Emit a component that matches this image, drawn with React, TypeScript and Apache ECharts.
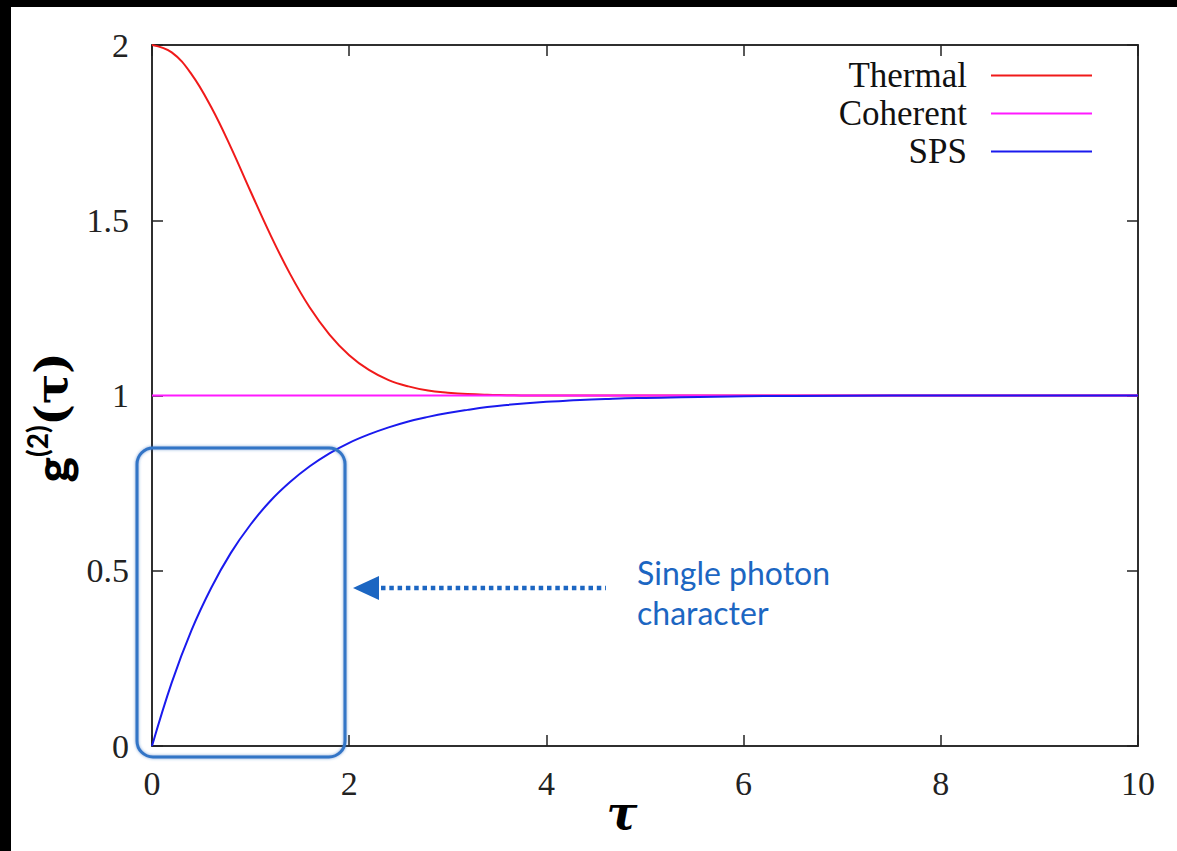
import React, { useEffect, useRef } from "react";
import * as echarts from "echarts";

// tau sample points
const tau = [0, 0.2, 0.4, 0.6, 0.8, 1.0, 1.2, 1.4, 1.6, 1.8, 2.0, 2.2, 2.4, 2.6, 2.8, 3.0, 3.2, 3.4, 3.6, 3.8, 4.0, 4.2, 4.4, 4.6, 4.8, 5.0, 6, 7, 8, 9, 10];
const thermal = [2.0, 1.979, 1.917, 1.823, 1.708, 1.582, 1.459, 1.347, 1.251, 1.174, 1.115, 1.073, 1.044, 1.026, 1.014, 1.008, 1.004, 1.002, 1.001, 1.0, 1.0, 1.0, 1.0, 1.0, 1.0, 1.0, 1.0, 1.0, 1.0, 1.0, 1.0];
const sps = [0, 0.181, 0.33, 0.451, 0.551, 0.632, 0.699, 0.753, 0.798, 0.835, 0.865, 0.889, 0.909, 0.926, 0.939, 0.95, 0.959, 0.967, 0.973, 0.978, 0.982, 0.985, 0.988, 0.99, 0.992, 0.993, 0.998, 0.999, 1.0, 1.0, 1.0];
const coherentTau = [0, 10];
const coherent = [1, 1];

const seriesNames = ["Thermal", "Coherent", "SPS"];
const seriesColors = ["#f01a1a", "#ff1aff", "#1a1aee"];
const xTicks = { min: 0, max: 10, interval: 2 };
const yTicks = { min: 0, max: 2, interval: 0.5 };
const annotationLines = ["Single photon", "character"];

const SERIF = "'Liberation Serif', 'Times New Roman', serif";

export default function App() {
  const ref = useRef<HTMLDivElement>(null);
  useEffect(() => {
    document.body.style.margin = "0";
    document.body.style.background = "#fff";
    document.documentElement.style.background = "#fff";
    document.documentElement.style.overflow = "hidden";
    const chart = echarts.init(ref.current!, null, { renderer: "svg" });
    const pair = (xs: number[], ys: number[]) => xs.map((x, i) => [x, ys[i]]);
    const axisCommon = {
      type: "value" as const,
      axisLine: { show: true, onZero: false, lineStyle: { color: "#222", width: 1.5 } },
      axisTick: { show: true, inside: true, length: 11, lineStyle: { color: "#222", width: 1.5 } },
      splitLine: { show: false },
    };
    const lineSeries = (name: string, data: number[][], color: string) => ({
      name,
      type: "line",
      data,
      symbol: "none",
      showSymbol: false,
      smooth: 0.4,
      lineStyle: { color, width: 2 },
      itemStyle: { color },
    });
    const blue = "#1c66c2";
    chart.setOption({
      animation: false,
      backgroundColor: "#ffffff",
      grid: {
        left: 152,
        top: 45,
        right: 39,
        bottom: 105,
        containLabel: false,
        outerBoundsMode: "none",
        show: true,
        borderColor: "#222",
        borderWidth: 1.5,
        backgroundColor: "transparent",
      },
      legend: {
        orient: "vertical",
        right: 85,
        top: 58,
        align: "right",
        padding: 0,
        icon: "rect",
        itemWidth: 101,
        itemHeight: 2,
        itemGap: 3,
        data: seriesNames,
        textStyle: { fontSize: 35, fontFamily: SERIF, color: "#111", padding: [0, 19, 0, 0] },
      },
      xAxis: [
        {
          ...axisCommon,
          ...xTicks,
          position: "bottom",
          axisLabel: { fontSize: 34, fontFamily: SERIF, color: "#222", margin: 20 },
          name: "τ",
          nameLocation: "middle",
          nameMoveOverlap: false,
          nameGap: 44,
          nameTextStyle: {
            fontSize: 46,
            lineHeight: 46,
            fontWeight: "bold",
            fontStyle: "italic",
            fontFamily: "'DejaVu Serif', serif",
            color: "#000",
            padding: [0, 46, 0, 0],
          },
        },
        {
          ...axisCommon,
          ...xTicks,
          position: "top",
          axisLabel: { show: false },
        },
      ],
      yAxis: [
        {
          ...axisCommon,
          ...yTicks,
          position: "left",
          axisLabel: { fontSize: 34, fontFamily: SERIF, color: "#222", margin: 23 },
          name: "{g|g}{s|(2)}{t|(τ)}",
          nameLocation: "middle",
          nameRotate: 90,
          nameGap: 64,
          nameTextStyle: {
            padding: [0, 44, 0, 0],
            rich: {
              g: { fontSize: 48, fontWeight: 900, fontFamily: "Lato, sans-serif", color: "#000", lineHeight: 58 },
              s: { fontSize: 28, fontWeight: 700, fontFamily: "Lato, sans-serif", color: "#000", verticalAlign: "top", lineHeight: 58 },
              t: { fontSize: 45, fontWeight: "bold", fontFamily: "'DejaVu Serif', serif", color: "#000", lineHeight: 58 },
            },
          },
        },
        {
          ...axisCommon,
          ...yTicks,
          position: "right",
          axisLabel: { show: false },
        },
      ],
      series: [
        lineSeries(seriesNames[0], pair(tau, thermal), seriesColors[0]),
        lineSeries(seriesNames[1], pair(coherentTau, coherent), seriesColors[1]),
        lineSeries(seriesNames[2], pair(tau, sps), seriesColors[2]),
        {
          name: "mirror",
          type: "line",
          xAxisIndex: 1,
          yAxisIndex: 1,
          data: [],
          symbol: "none",
          silent: true,
        },
      ],
      graphic: [
        { type: "rect", z: 100, shape: { x: 0, y: 0, width: 1177, height: 7 }, style: { fill: "#000" } },
        { type: "rect", z: 100, shape: { x: 0, y: 0, width: 11, height: 851 }, style: { fill: "#000" } },
        {
          type: "rect",
          z: 50,
          shape: { x: 137, y: 448, width: 208, height: 309, r: 16 },
          style: { fill: "none", stroke: "#3374c6", lineWidth: 3, shadowBlur: 3, shadowColor: "rgba(40,100,190,0.6)" },
        },
        {
          type: "line",
          z: 50,
          shape: { x1: 381, y1: 588, x2: 606, y2: 588 },
          style: { stroke: blue, lineWidth: 4.5, lineDash: [4.5, 3.8] },
        },
        {
          type: "polygon",
          z: 50,
          shape: { points: [[353, 588], [379, 576], [379, 600]] },
          style: { fill: blue },
        },
        {
          type: "text",
          z: 50,
          x: 637,
          y: 552,
          style: {
            text: annotationLines.join("\n"),
            fill: blue,
            fontSize: 32,
            lineHeight: 40,
            fontFamily: "Lato, 'Open Sans', sans-serif",
          },
        },
      ],
    });
    return () => chart.dispose();
  }, []);
  return (
    <div
      ref={ref}
      style={{ position: "fixed", left: 0, top: 0, width: 1177, height: 851, background: "#fff" }}
    />
  );
}
